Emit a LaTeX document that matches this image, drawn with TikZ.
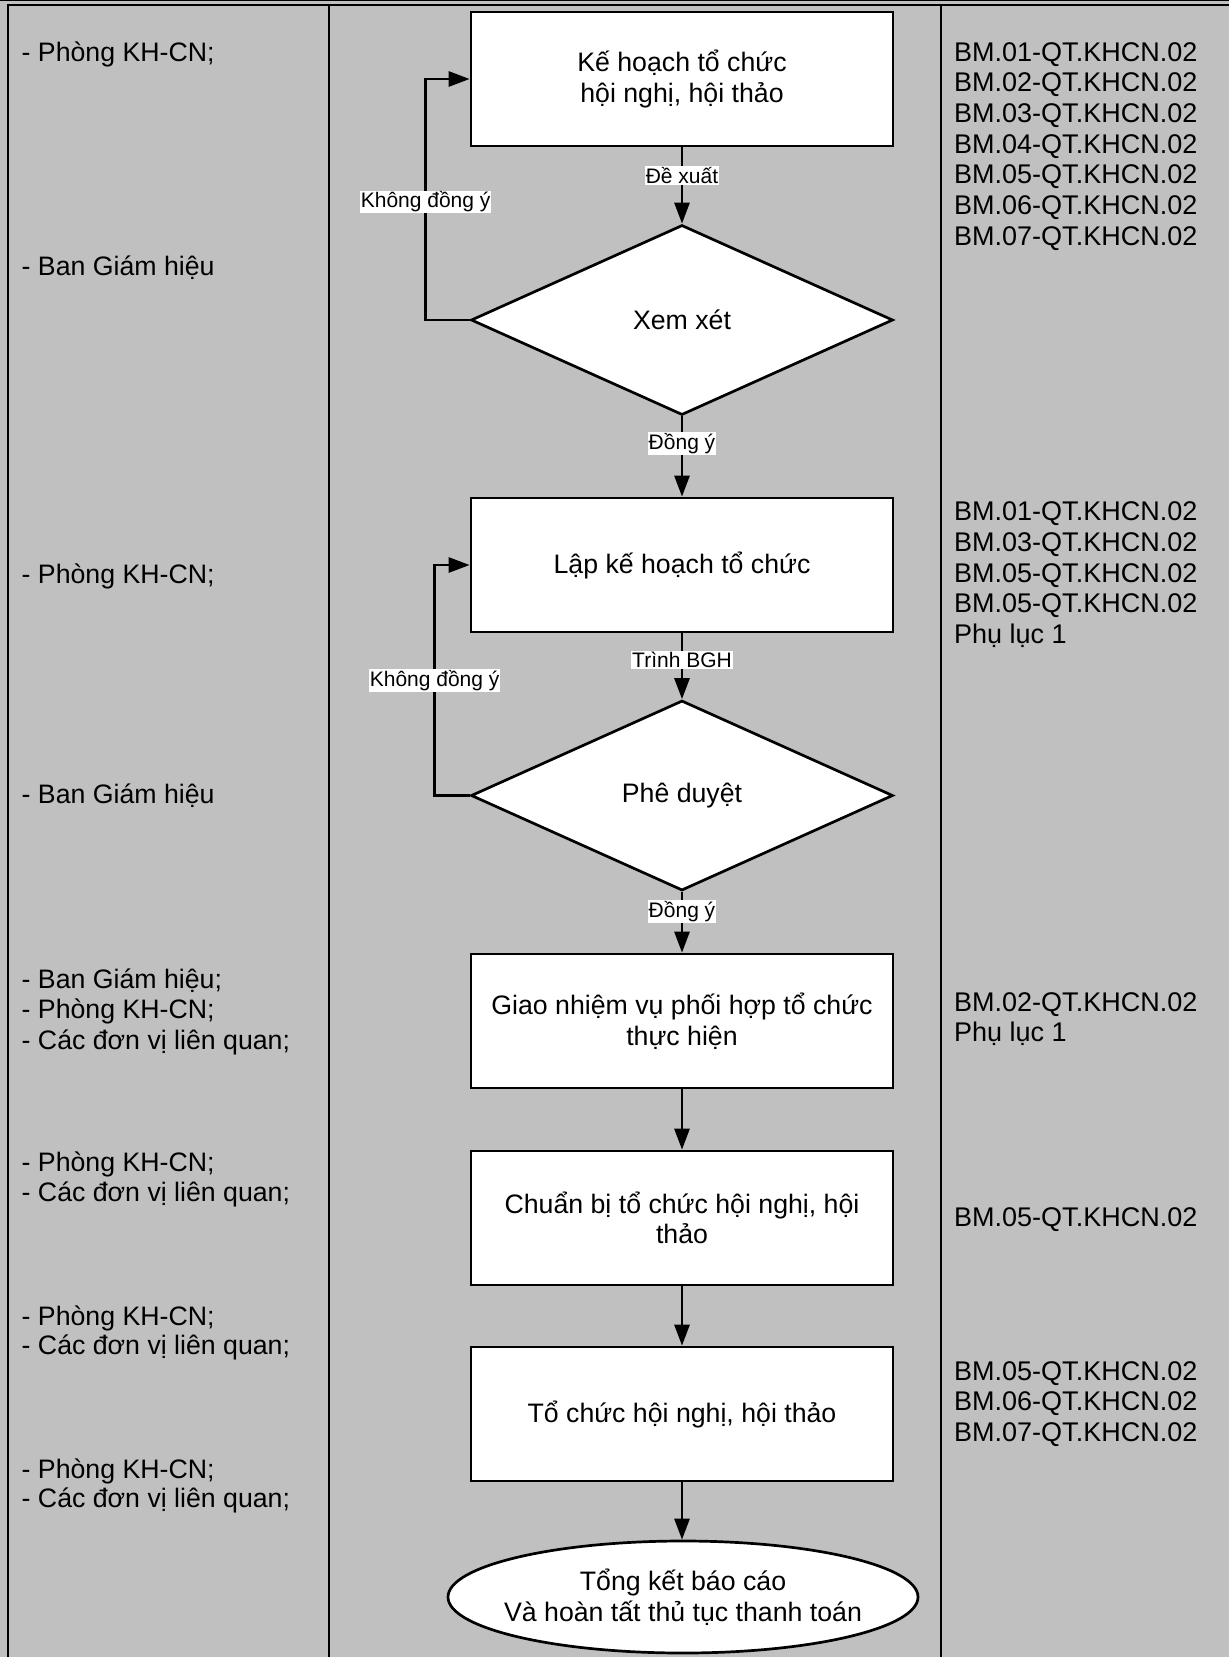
\documentclass[tikz,border=0pt]{standalone}
\usepackage{fontspec}
\setmainfont{Liberation Sans}
\usetikzlibrary{shapes.geometric,arrows.meta}
\definecolor{bggray}{HTML}{C0C0C0}
\begin{document}
\begin{tikzpicture}[x=1pt,y=-1pt,
  mainfont/.style={font=\fontsize{26.7}{30.6}\selectfont},
  rightfont/.style={font=\fontsize{27}{30.6}\selectfont},
  proc/.style={draw, line width=2.7pt, fill=white, rectangle, minimum width=422pt, minimum height=134pt, align=center, inner sep=0pt, mainfont},
  dec/.style={draw, line width=2.7pt, fill=white, diamond, minimum width=422pt, minimum height=190pt, inner sep=0pt, mainfont},
  term/.style={draw, line width=2.7pt, fill=white, ellipse, minimum width=470pt, minimum height=112pt, inner sep=0pt},
  termtext/.style={align=center, inner sep=0pt, mainfont},
  arr/.style={line width=2.7pt, -{Triangle[length=21pt,width=15pt]}},
  lbl/.style={fill=white, inner sep=1pt, font=\fontsize{21}{25}\selectfont},
  coltxt/.style={anchor=base west, inner sep=0pt, mainfont},
  rcoltxt/.style={anchor=base west, inner sep=0pt, rightfont},
  gridline/.style={line width=2pt}
]
\useasboundingbox (0,0) rectangle (1229,1657);
\fill[bggray] (0,0) rectangle (1229,1657);
% table lines
\draw[line width=1.3pt] (0,0.8) -- (1229,0.8);
\draw[gridline] (6.7,5) -- (1229,5);
\draw[gridline] (7.7,5) -- (7.7,1657);
\draw[gridline] (329,5) -- (329,1657);
\draw[gridline] (941,5) -- (941,1657);

% left column
\foreach \yy/\txt [count=\i] in {
  51.8/- Phòng KH-CN;,
  266.3/- Ban Giám hiệu,
  573.8/- Phòng KH-CN;,
  793.6/- Ban Giám hiệu,
  978.5/- Ban Giám hiệu;,
  1009.1/- Phòng KH-CN;,
  1039.8/- Các đơn vị liên quan;,
  1162.4/- Phòng KH-CN;,
  1192/- Các đơn vị liên quan;,
  1315.6/- Phòng KH-CN;,
  1345.2/- Các đơn vị liên quan;,
  1468.8/- Phòng KH-CN;,
  1498.4/- Các đơn vị liên quan;}
  \node[coltxt] (L\i) at (21.5,\yy+9.5) {\txt};

% right column
\foreach \yy/\txt [count=\i] in {
  51.8/BM.01-QT.KHCN.02,
  82.4/BM.02-QT.KHCN.02,
  113.1/BM.03-QT.KHCN.02,
  143.7/BM.04-QT.KHCN.02,
  174.4/BM.05-QT.KHCN.02,
  205/BM.06-QT.KHCN.02,
  235.6/BM.07-QT.KHCN.02,
  511.4/BM.01-QT.KHCN.02,
  542.1/BM.03-QT.KHCN.02,
  572.8/BM.05-QT.KHCN.02,
  603.4/BM.05-QT.KHCN.02,
  634/Phụ lục 1,
  1001.8/BM.02-QT.KHCN.02,
  1032.4/Phụ lục 1,
  1217.3/BM.05-QT.KHCN.02,
  1370.6/BM.05-QT.KHCN.02,
  1401.2/BM.06-QT.KHCN.02,
  1431.8/BM.07-QT.KHCN.02}
  \node[rcoltxt] (R\i) at (954,\yy+9.5) {\txt};

% flow nodes
\node[proc] (b1) at (682,79) {Kế hoạch tổ chức\\hội nghị, hội thảo};
\node[dec]  (d1) at (682,320) {Xem xét};
\node[proc] (b2) at (682,565) {Lập kế hoạch tổ chức};
\node[dec]  (d2) at (682,795.5) {Phê duyệt};
\node[proc] (b3) at (682,1021) {Giao nhiệm vụ phối hợp tổ chức\\thực hiện};
\node[proc] (b4) at (682,1218) {Chuẩn bị tổ chức hội nghị, hội\\thảo};
\node[proc] (b5) at (682,1414) {Tổ chức hội nghị, hội thảo};
\node[term] (e1) at (683,1597) {};
\node[termtext] (e1t) at (e1.center) {Tổng kết báo cáo\\Và hoàn tất thủ tục thanh toán};

% connectors
\draw[arr] (b1.south) -- node[lbl,pos=0.37]{Đề xuất} (d1.north);
\draw[arr] (d1.south) -- node[lbl,pos=0.335]{Đồng ý} (b2.north);
\draw[arr] (b2.south) -- node[lbl,pos=0.40]{Trình BGH} (d2.north);
\draw[arr] (d2.south) -- node[lbl,pos=0.32]{Đồng ý} (b3.north);
\draw[arr] (b3.south) -- (b4.north);
\draw[arr] (b4.south) -- (b5.north);
\draw[arr] (b5.south) -- (b5.south |- e1.north);
\draw[arr] (d1.west) -- ++(-44,0) coordinate (k1)
  -- node[lbl,pos=0.49]{Không đồng ý} (k1 |- b1.west) -- (b1.west);
\draw[arr] (d2.west) -- ++(-35,0) coordinate (k2)
  -- node[lbl,pos=0.5]{Không đồng ý} (k2 |- b2.west) -- (b2.west);
\end{tikzpicture}
\end{document}
